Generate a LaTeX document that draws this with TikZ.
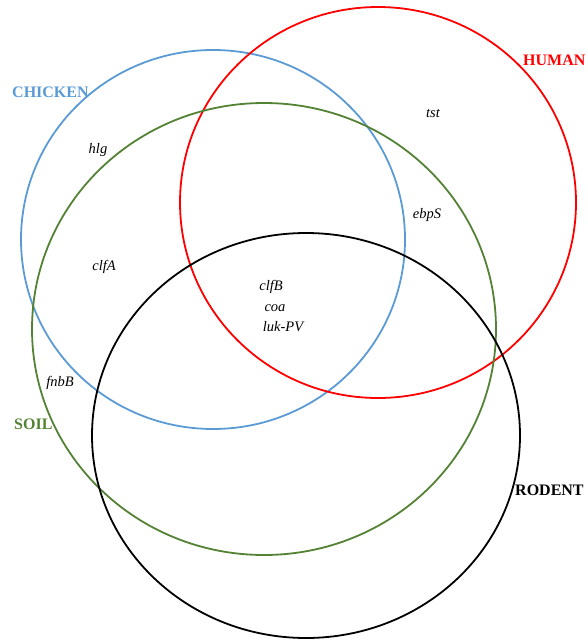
\documentclass[tikz,border=0pt]{standalone}
\usepackage{fontspec}
\setmainfont{Liberation Serif}
\definecolor{cblue}{HTML}{5B9BD5}
\definecolor{cred}{HTML}{FF0000}
\definecolor{cgreen}{HTML}{548235}
\begin{document}
\begin{tikzpicture}[x=1pt,y=-1pt,
  setline/.style={line width=1.8pt},
  setlabel/.style={font=\fontsize{16}{18}\selectfont\bfseries, inner sep=0pt},
  gene/.style={font=\fontsize{14.5}{16}\selectfont\itshape, inner sep=0pt}]
\useasboundingbox (0,0) rectangle (587,642);
% sets
\draw[setline, cblue] (213,239.5) ellipse [x radius=192pt, y radius=189.5pt];
\draw[setline, cred] (378,202.5) ellipse [x radius=198pt, y radius=195.5pt];
\draw[setline, cgreen] (264,329) ellipse [x radius=232pt, y radius=226pt];
\draw[setline, black] (306,435.5) ellipse [x radius=214pt, y radius=202.5pt];
% set labels
\node[setlabel, text=cblue, anchor=west] (chicken) at (12,92) {CHICKEN};
\node[setlabel, text=cred, anchor=west] (human) at (523,60) {HUMAN};
\node[setlabel, text=cgreen, anchor=west] (soil) at (14,424) {SOIL};
\node[setlabel, text=black, anchor=west] (rodent) at (515,490) {RODENT};
% genes
\node[gene] (hlg) at (98,150) {hlg};
\node[gene] (tst) at (433,113) {tst};
\node[gene] (ebps) at (427,215) {ebpS};
\node[gene] (clfa) at (104,267) {clfA};
\node[gene] (clfb) at (271,287) {clfB};
\node[gene] (coa) at (275,308) {coa};
\node[gene] (lukpv) at (283,327) {luk-PV};
\node[gene] (fnbb) at (60,383) {fnbB};
\end{tikzpicture}
\end{document}
